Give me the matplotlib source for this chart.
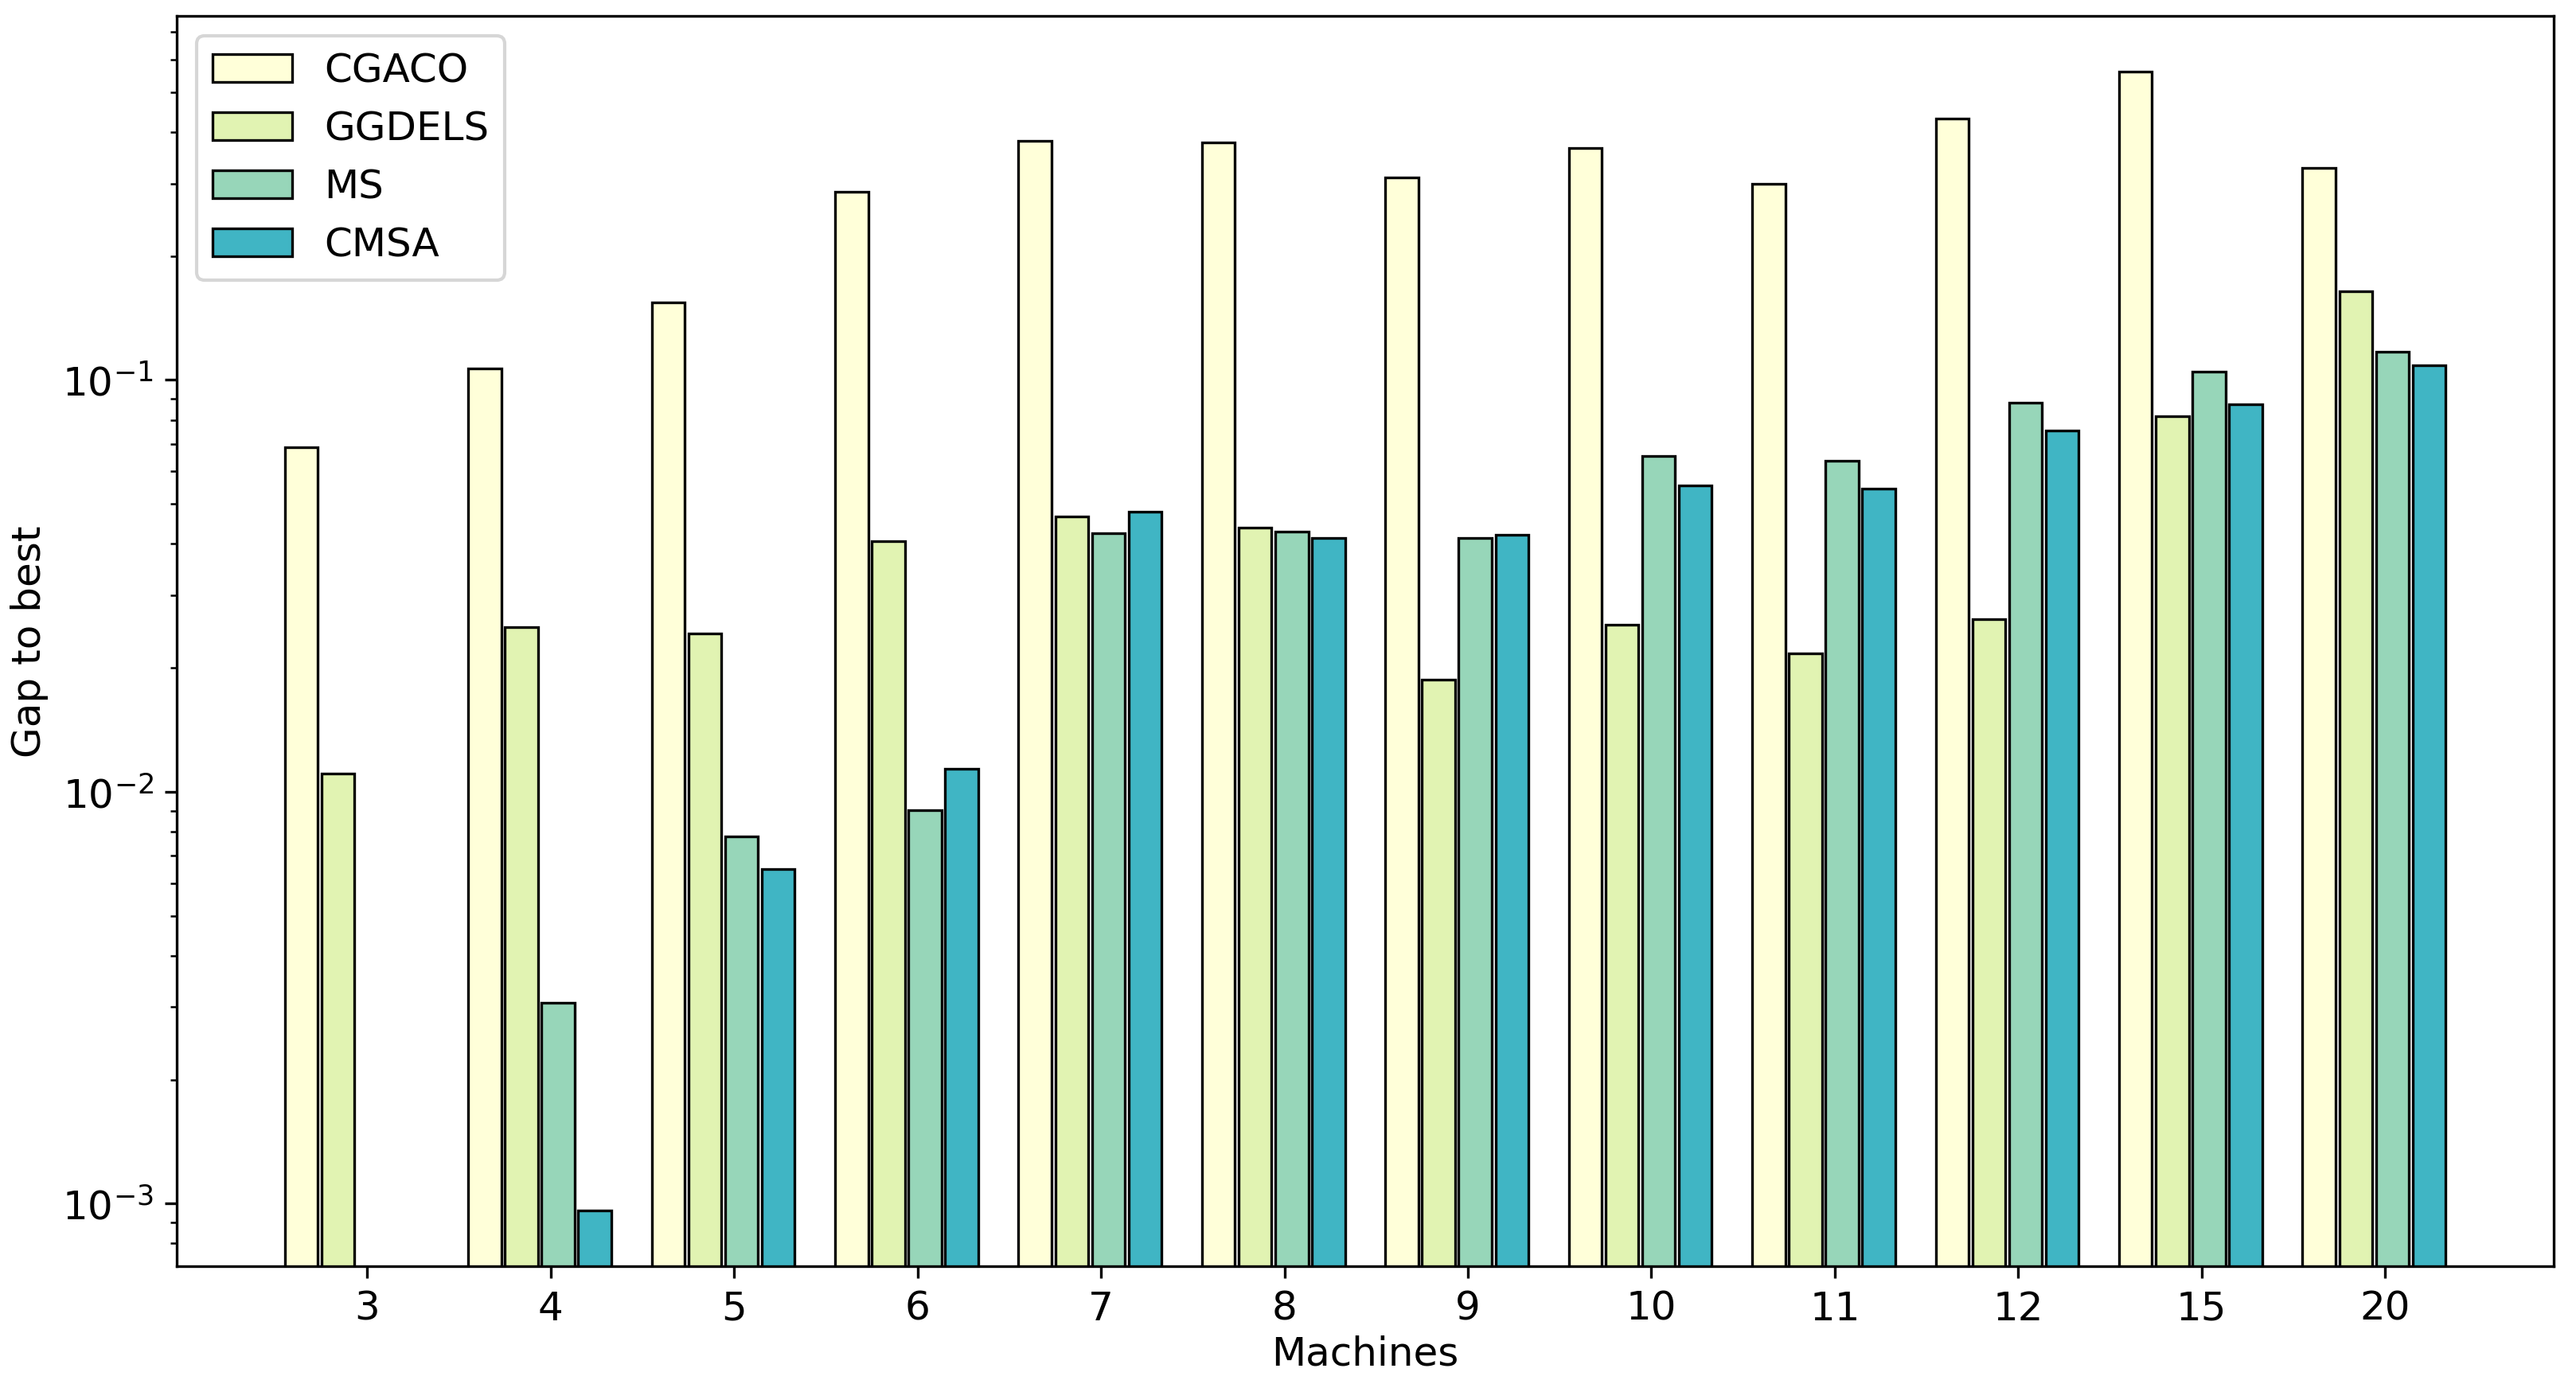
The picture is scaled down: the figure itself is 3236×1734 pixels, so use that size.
import numpy as np
import matplotlib
matplotlib.use("Agg")
import matplotlib.pyplot as plt

machines = ["3", "4", "5", "6", "7", "8", "9", "10", "11", "12", "15", "20"]
algos = ["CGACO", "GGDELS", "MS", "CMSA"]

cgaco = [0.0685, 0.1067, 0.154, 0.286, 0.380, 0.377, 0.310, 0.366, 0.299, 0.432, 0.560, 0.328]
ggdels = [0.01107, 0.0251, 0.0242, 0.0406, 0.0466, 0.0437, 0.0187, 0.0254, 0.0217, 0.0263, 0.0817, 0.164]
ms = [0.0, 0.00308, 0.0078, 0.00904, 0.0425, 0.0428, 0.0413, 0.0655, 0.0637, 0.0879, 0.1047, 0.117]
cmsa = [0.0, 0.000964, 0.00649, 0.01138, 0.0479, 0.0413, 0.0421, 0.0555, 0.0545, 0.0752, 0.0871, 0.1086]

values = [cgaco, ggdels, ms, cmsa]
colors = plt.cm.YlGnBu(np.linspace(0, 0.5, 4))

plt.rcParams['font.size'] = 12

fig, ax = plt.subplots(figsize=(10.79, 5.783), dpi=300)
fig.subplots_adjust(left=0.0686, right=0.991, top=0.988, bottom=0.0825)

x = np.arange(len(machines))
width = 0.18
for i, (name, vals) in enumerate(zip(algos, values)):
    ax.bar(x - 0.36 + i * 0.2, vals, width, label=name,
           color=colors[i], edgecolor='black', linewidth=0.8)

ax.set_yscale('log')
ax.set_ylim(7.05e-4, 0.766)
ax.set_xticks(x)
ax.set_xticklabels(machines)
ax.set_xlabel("Machines", labelpad=2)
ax.set_ylabel("Gap to best")
ax.legend(loc='upper left')

fig.savefig("out.png", dpi=300)
